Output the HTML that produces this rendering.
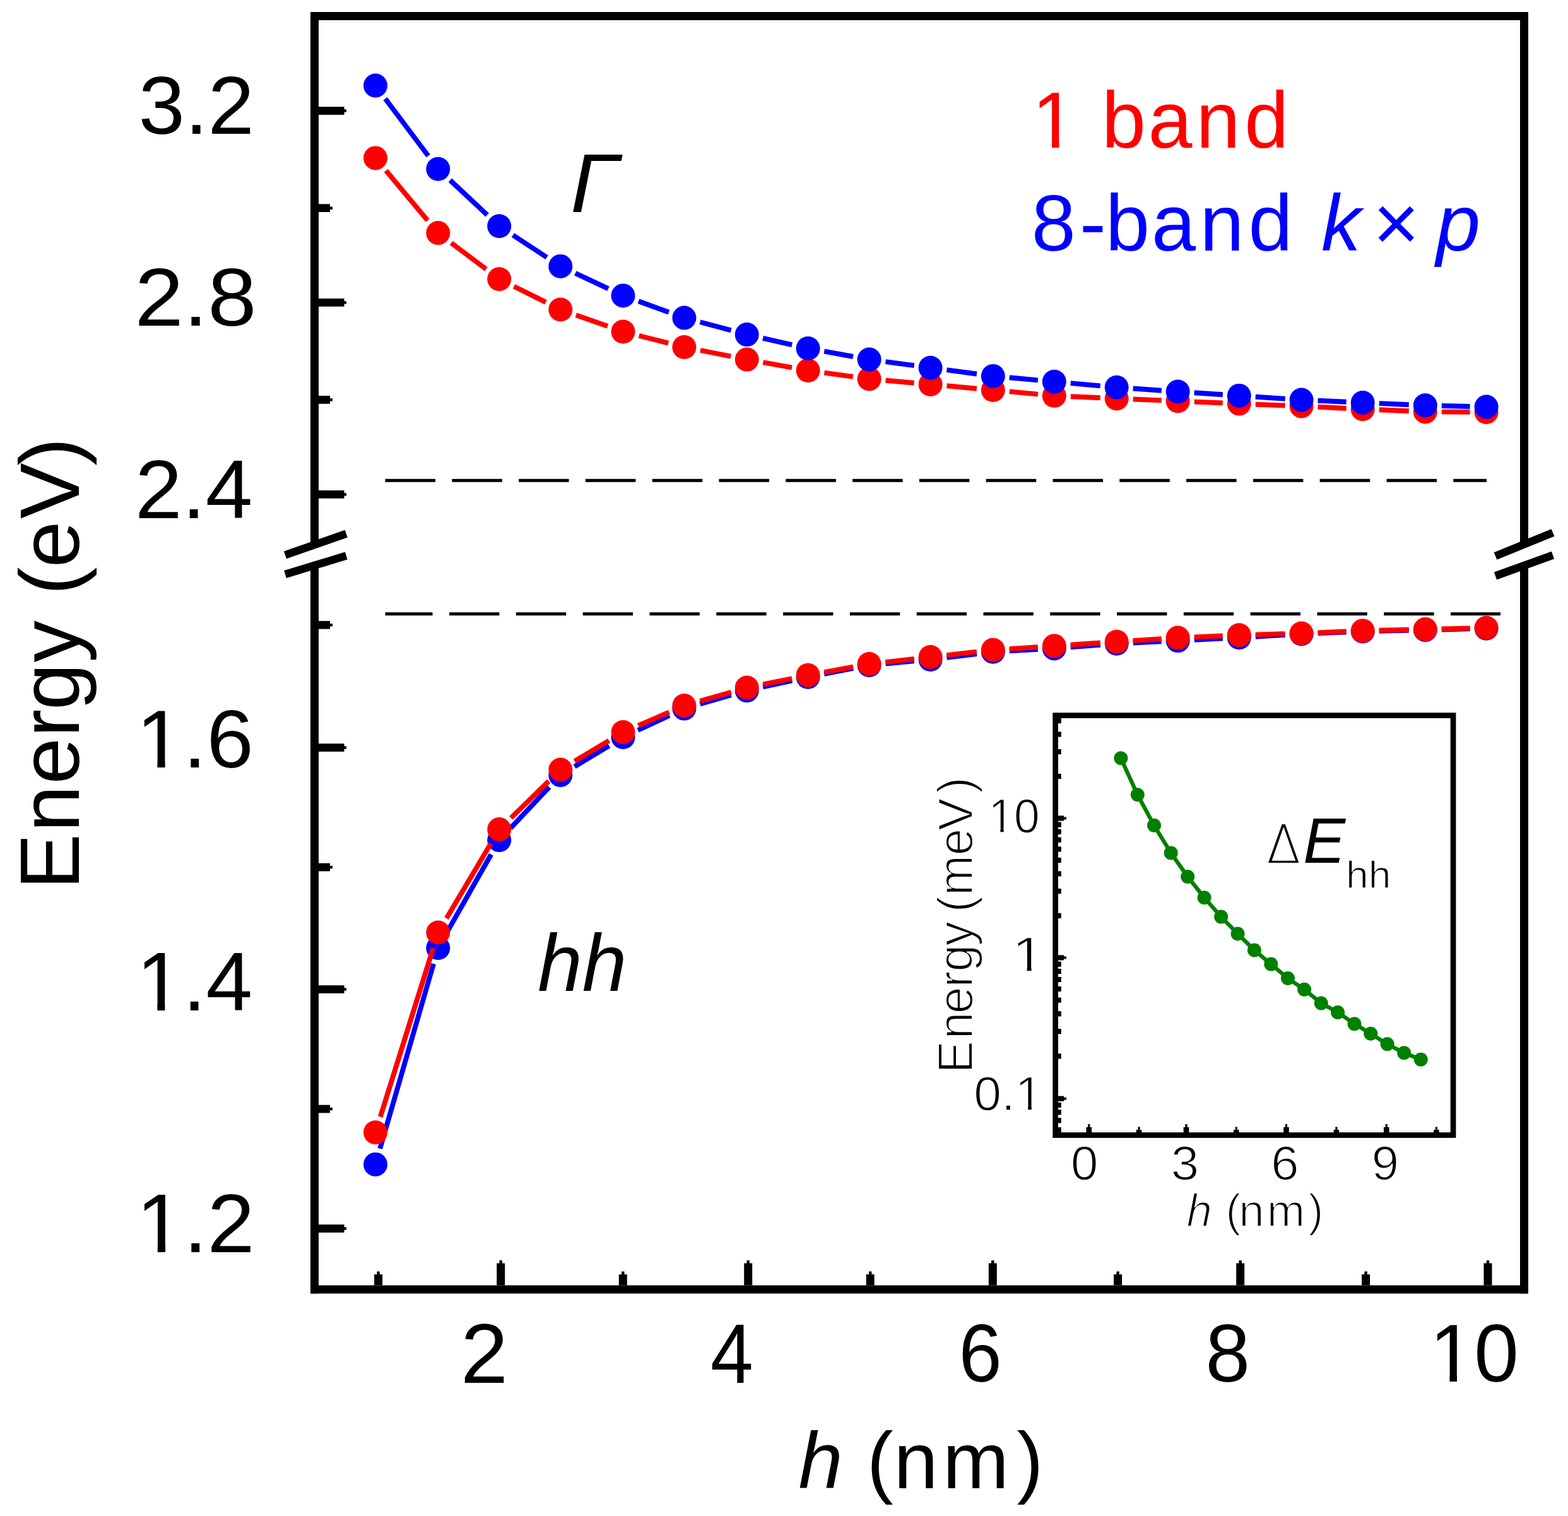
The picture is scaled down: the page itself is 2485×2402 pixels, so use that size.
<!DOCTYPE html>
<html><head><meta charset="utf-8"><title>Energy vs h</title>
<style>
html,body{margin:0;padding:0;background:#fff;overflow:hidden;}
svg{display:block;}
text{font-family:"Liberation Sans",Arial,sans-serif;}
</style></head>
<body>
<svg width="2485" height="2402" viewBox="0 0 2485 2402">
<rect x="0" y="0" width="2485" height="2402" fill="#fff"/>
<rect x="492.0" y="19.0" width="1930.0" height="13.0" fill="#000"/>
<rect x="492.0" y="2036.5" width="1930.0" height="13.0" fill="#000"/>
<rect x="492.0" y="19.0" width="13.0" height="843.0" fill="#000"/>
<rect x="492.0" y="897.0" width="13.0" height="1152.5" fill="#000"/>
<rect x="2409.0" y="19.0" width="13.0" height="843.0" fill="#000"/>
<rect x="2409.0" y="897.0" width="13.0" height="1152.5" fill="#000"/>
<line x1="452.0" y1="879.4" x2="548.7" y2="845.6" stroke="#000" stroke-width="12.5" stroke-linecap="butt"/>
<line x1="452.0" y1="910.0" x2="548.7" y2="880.5" stroke="#000" stroke-width="12.5" stroke-linecap="butt"/>
<line x1="2370.0" y1="881.0" x2="2461.0" y2="844.0" stroke="#000" stroke-width="12.5" stroke-linecap="butt"/>
<line x1="2370.0" y1="912.5" x2="2461.0" y2="879.7" stroke="#000" stroke-width="12.5" stroke-linecap="butt"/>
<rect x="505.0" y="169.2" width="40.5" height="12.7" fill="#000"/>
<rect x="545.0" y="173.3" width="4.0" height="4.4" fill="#000"/>
<rect x="505.0" y="473.0" width="40.5" height="12.7" fill="#000"/>
<rect x="545.0" y="477.2" width="4.0" height="4.4" fill="#000"/>
<rect x="505.0" y="777.0" width="40.5" height="12.7" fill="#000"/>
<rect x="545.0" y="781.2" width="4.0" height="4.4" fill="#000"/>
<rect x="505.0" y="1178.2" width="40.5" height="12.7" fill="#000"/>
<rect x="545.0" y="1182.3" width="4.0" height="4.4" fill="#000"/>
<rect x="505.0" y="1561.2" width="40.5" height="12.7" fill="#000"/>
<rect x="545.0" y="1565.3" width="4.0" height="4.4" fill="#000"/>
<rect x="505.0" y="1940.2" width="40.5" height="12.7" fill="#000"/>
<rect x="545.0" y="1944.3" width="4.0" height="4.4" fill="#000"/>
<rect x="505.0" y="323.3" width="18.0" height="12.7" fill="#000"/>
<rect x="522.5" y="327.5" width="4.5" height="4.4" fill="#000"/>
<rect x="505.0" y="627.1" width="18.0" height="12.7" fill="#000"/>
<rect x="522.5" y="631.3" width="4.5" height="4.4" fill="#000"/>
<rect x="505.0" y="983.9" width="18.0" height="12.7" fill="#000"/>
<rect x="522.5" y="988.1" width="4.5" height="4.4" fill="#000"/>
<rect x="505.0" y="1367.7" width="18.0" height="12.7" fill="#000"/>
<rect x="522.5" y="1371.8" width="4.5" height="4.4" fill="#000"/>
<rect x="505.0" y="1750.7" width="18.0" height="12.7" fill="#000"/>
<rect x="522.5" y="1754.8" width="4.5" height="4.4" fill="#000"/>
<rect x="787.2" y="2001.5" width="13.0" height="35.0" fill="#000"/>
<rect x="791.5" y="1997.0" width="4.4" height="5.0" fill="#000"/>
<rect x="1179.2" y="2001.5" width="13.0" height="35.0" fill="#000"/>
<rect x="1183.5" y="1997.0" width="4.4" height="5.0" fill="#000"/>
<rect x="1566.8" y="2001.5" width="13.0" height="35.0" fill="#000"/>
<rect x="1571.1" y="1997.0" width="4.4" height="5.0" fill="#000"/>
<rect x="1959.2" y="2001.5" width="13.0" height="35.0" fill="#000"/>
<rect x="1963.5" y="1997.0" width="4.4" height="5.0" fill="#000"/>
<rect x="2351.5" y="2001.5" width="13.0" height="35.0" fill="#000"/>
<rect x="2355.8" y="1997.0" width="4.4" height="5.0" fill="#000"/>
<rect x="593.1" y="2019.2" width="13.0" height="17.3" fill="#000"/>
<rect x="597.4" y="2014.5" width="4.4" height="5.0" fill="#000"/>
<rect x="980.8" y="2019.2" width="13.0" height="17.3" fill="#000"/>
<rect x="985.1" y="2014.5" width="4.4" height="5.0" fill="#000"/>
<rect x="1372.7" y="2019.2" width="13.0" height="17.3" fill="#000"/>
<rect x="1377.0" y="2014.5" width="4.4" height="5.0" fill="#000"/>
<rect x="1765.1" y="2019.2" width="13.0" height="17.3" fill="#000"/>
<rect x="1769.4" y="2014.5" width="4.4" height="5.0" fill="#000"/>
<rect x="2158.1" y="2019.2" width="13.0" height="17.3" fill="#000"/>
<rect x="2162.4" y="2014.5" width="4.4" height="5.0" fill="#000"/>
<rect x="610.5" y="758.8" width="79.5" height="5.0" fill="#000"/>
<rect x="716.3" y="758.8" width="79.5" height="5.0" fill="#000"/>
<rect x="822.1" y="758.8" width="79.5" height="5.0" fill="#000"/>
<rect x="927.9" y="758.8" width="79.5" height="5.0" fill="#000"/>
<rect x="1033.7" y="758.8" width="79.5" height="5.0" fill="#000"/>
<rect x="1139.5" y="758.8" width="79.5" height="5.0" fill="#000"/>
<rect x="1245.3" y="758.8" width="79.5" height="5.0" fill="#000"/>
<rect x="1351.1" y="758.8" width="79.5" height="5.0" fill="#000"/>
<rect x="1456.9" y="758.8" width="79.5" height="5.0" fill="#000"/>
<rect x="1562.7" y="758.8" width="79.5" height="5.0" fill="#000"/>
<rect x="1668.5" y="758.8" width="79.5" height="5.0" fill="#000"/>
<rect x="1774.3" y="758.8" width="79.5" height="5.0" fill="#000"/>
<rect x="1880.1" y="758.8" width="79.5" height="5.0" fill="#000"/>
<rect x="1985.9" y="758.8" width="79.5" height="5.0" fill="#000"/>
<rect x="2091.7" y="758.8" width="79.5" height="5.0" fill="#000"/>
<rect x="2197.5" y="758.8" width="79.5" height="5.0" fill="#000"/>
<rect x="2303.3" y="758.8" width="52.7" height="5.0" fill="#000"/>
<rect x="610.5" y="970.2" width="75.0" height="5.0" fill="#000"/>
<rect x="712.1" y="970.2" width="79.3" height="5.0" fill="#000"/>
<rect x="817.9" y="970.2" width="79.3" height="5.0" fill="#000"/>
<rect x="923.7" y="970.2" width="79.3" height="5.0" fill="#000"/>
<rect x="1029.5" y="970.2" width="79.3" height="5.0" fill="#000"/>
<rect x="1135.3" y="970.2" width="79.3" height="5.0" fill="#000"/>
<rect x="1241.1" y="970.2" width="79.3" height="5.0" fill="#000"/>
<rect x="1346.9" y="970.2" width="79.3" height="5.0" fill="#000"/>
<rect x="1452.7" y="970.2" width="79.3" height="5.0" fill="#000"/>
<rect x="1558.5" y="970.2" width="79.3" height="5.0" fill="#000"/>
<rect x="1664.3" y="970.2" width="79.3" height="5.0" fill="#000"/>
<rect x="1770.1" y="970.2" width="79.3" height="5.0" fill="#000"/>
<rect x="1875.9" y="970.2" width="79.3" height="5.0" fill="#000"/>
<rect x="1981.7" y="970.2" width="79.3" height="5.0" fill="#000"/>
<rect x="2087.5" y="970.2" width="79.3" height="5.0" fill="#000"/>
<rect x="2193.3" y="970.2" width="79.3" height="5.0" fill="#000"/>
<rect x="2299.1" y="970.2" width="78.9" height="5.0" fill="#000"/>
<path d="M611.7,270.3L677.6,349.2M715.1,384.8L770.4,426.5M814.5,453.8L865.0,478.9M912.8,499.2L963.0,516.8M1012.7,531.9L1059.2,543.6M1109.9,555.0L1158.2,564.6M1209.3,574.2L1255.0,582.4M1306.4,590.6L1351.8,596.8M1403.5,602.7L1448.7,606.7M1500.5,611.3L1547.9,615.7M1599.7,620.4L1644.9,624.6M1696.8,628.2L1743.7,630.2M1795.7,632.5L1840.7,634.4M1892.7,636.6L1937.8,638.5M1989.8,640.7L2036.6,642.5M2088.6,644.8L2133.7,647.0M2185.7,649.3L2232.8,651.3M2284.8,652.6L2329.6,652.8" stroke="#ff0000" stroke-width="7.9" fill="none" stroke-linecap="butt"/>
<g fill="#ff0000"><circle cx="595.0" cy="250.4" r="19.0"/><circle cx="694.3" cy="369.1" r="19.0"/><circle cx="791.2" cy="442.2" r="19.0"/><circle cx="888.3" cy="490.5" r="19.0"/><circle cx="987.5" cy="525.5" r="19.0"/><circle cx="1084.4" cy="550.0" r="19.0"/><circle cx="1183.7" cy="569.6" r="19.0"/><circle cx="1280.6" cy="587.0" r="19.0"/><circle cx="1377.6" cy="600.4" r="19.0"/><circle cx="1474.6" cy="609.0" r="19.0"/><circle cx="1573.8" cy="618.0" r="19.0"/><circle cx="1670.8" cy="627.0" r="19.0"/><circle cx="1769.7" cy="631.4" r="19.0"/><circle cx="1866.7" cy="635.5" r="19.0"/><circle cx="1963.8" cy="639.6" r="19.0"/><circle cx="2062.6" cy="643.6" r="19.0"/><circle cx="2159.7" cy="648.2" r="19.0"/><circle cx="2258.8" cy="652.4" r="19.0"/><circle cx="2355.6" cy="653.0" r="19.0"/></g>
<path d="M610.6,156.4L678.7,247.0M713.3,285.5L772.2,340.6M812.9,372.5L866.6,407.7M911.8,432.9L964.0,457.4M1011.9,477.3L1060.0,494.7M1109.5,510.3L1158.6,523.4M1209.1,535.8L1255.2,546.3M1306.2,556.6L1352.0,565.0M1403.4,573.1L1448.8,579.2M1500.4,586.1L1548.0,592.5M1599.7,598.3L1644.9,602.4M1696.7,607.1L1743.8,611.4M1795.6,615.5L1840.8,618.7M1892.6,622.2L1937.9,625.2M1989.7,628.7L2036.7,631.8M2088.6,634.8L2133.7,636.8M2185.7,639.1L2232.8,641.2M2284.8,642.9L2329.6,644.0" stroke="#0000ff" stroke-width="7.9" fill="none" stroke-linecap="butt"/>
<g fill="#0000ff"><circle cx="595.0" cy="135.6" r="19.0"/><circle cx="694.3" cy="267.8" r="19.0"/><circle cx="791.2" cy="358.3" r="19.0"/><circle cx="888.3" cy="421.9" r="19.0"/><circle cx="987.5" cy="468.4" r="19.0"/><circle cx="1084.4" cy="503.6" r="19.0"/><circle cx="1183.7" cy="530.1" r="19.0"/><circle cx="1280.6" cy="552.0" r="19.0"/><circle cx="1377.6" cy="569.6" r="19.0"/><circle cx="1474.6" cy="582.7" r="19.0"/><circle cx="1573.8" cy="595.9" r="19.0"/><circle cx="1670.8" cy="604.8" r="19.0"/><circle cx="1769.7" cy="613.7" r="19.0"/><circle cx="1866.7" cy="620.5" r="19.0"/><circle cx="1963.8" cy="626.9" r="19.0"/><circle cx="2062.6" cy="633.6" r="19.0"/><circle cx="2159.7" cy="638.0" r="19.0"/><circle cx="2258.8" cy="642.3" r="19.0"/><circle cx="2355.6" cy="644.6" r="19.0"/></g>
<path d="M602.2,1819.9L687.1,1527.0M707.1,1479.4L778.4,1353.7M809.0,1312.2L870.5,1247.0M910.5,1214.6L965.3,1181.5M1011.0,1157.0L1060.9,1133.6M1109.4,1115.4L1158.7,1101.3M1209.1,1088.5L1255.2,1078.4M1306.1,1067.9L1352.1,1058.9M1403.5,1051.6L1448.7,1047.4M1500.4,1041.8L1548.0,1036.0M1599.8,1031.4L1644.8,1028.8M1696.7,1025.4L1743.8,1021.8M1795.7,1018.5L1840.7,1016.4M1892.7,1013.8L1937.8,1011.6M1989.8,1008.8L2036.6,1006.0M2088.6,1003.4L2133.7,1001.5M2185.7,999.8L2232.8,998.7M2284.8,997.5L2329.6,996.4" stroke="#0000ff" stroke-width="7.9" fill="none" stroke-linecap="butt"/>
<g fill="#0000ff"><circle cx="595.0" cy="1844.9" r="19.0"/><circle cx="694.3" cy="1502.0" r="19.0"/><circle cx="791.2" cy="1331.1" r="19.0"/><circle cx="888.3" cy="1228.1" r="19.0"/><circle cx="987.5" cy="1168.0" r="19.0"/><circle cx="1084.4" cy="1122.6" r="19.0"/><circle cx="1183.7" cy="1094.1" r="19.0"/><circle cx="1280.6" cy="1072.8" r="19.0"/><circle cx="1377.6" cy="1054.0" r="19.0"/><circle cx="1474.6" cy="1045.0" r="19.0"/><circle cx="1573.8" cy="1032.8" r="19.0"/><circle cx="1670.8" cy="1027.4" r="19.0"/><circle cx="1769.7" cy="1019.8" r="19.0"/><circle cx="1866.7" cy="1015.1" r="19.0"/><circle cx="1963.8" cy="1010.3" r="19.0"/><circle cx="2062.6" cy="1004.5" r="19.0"/><circle cx="2159.7" cy="1000.4" r="19.0"/><circle cx="2258.8" cy="998.1" r="19.0"/><circle cx="2355.6" cy="995.8" r="19.0"/></g>
<path d="M602.8,1769.5L686.5,1502.3M707.6,1455.1L777.9,1336.5M809.8,1296.0L869.7,1237.7M910.6,1206.2L965.2,1173.4M1011.4,1149.7L1060.5,1128.3M1109.4,1110.8L1158.7,1096.7M1209.2,1084.3L1255.1,1075.0M1306.2,1065.1L1352.0,1056.7M1403.4,1049.1L1448.8,1043.9M1500.4,1038.1L1548.0,1032.7M1599.7,1028.1L1644.9,1025.1M1696.7,1021.7L1743.8,1018.5M1795.6,1015.1L1840.8,1012.3M1892.7,1009.4L1937.8,1007.5M1989.8,1005.6L2036.6,1004.2M2088.6,1002.4L2133.7,1000.5M2185.7,998.8L2232.8,997.7M2284.8,996.5L2329.6,995.4" stroke="#ff0000" stroke-width="7.9" fill="none" stroke-linecap="butt"/>
<g fill="#ff0000"><circle cx="595.0" cy="1794.3" r="19.0"/><circle cx="694.3" cy="1477.5" r="19.0"/><circle cx="791.2" cy="1314.1" r="19.0"/><circle cx="888.3" cy="1219.6" r="19.0"/><circle cx="987.5" cy="1160.0" r="19.0"/><circle cx="1084.4" cy="1118.0" r="19.0"/><circle cx="1183.7" cy="1089.5" r="19.0"/><circle cx="1280.6" cy="1069.8" r="19.0"/><circle cx="1377.6" cy="1052.0" r="19.0"/><circle cx="1474.6" cy="1041.0" r="19.0"/><circle cx="1573.8" cy="1029.8" r="19.0"/><circle cx="1670.8" cy="1023.4" r="19.0"/><circle cx="1769.7" cy="1016.8" r="19.0"/><circle cx="1866.7" cy="1010.6" r="19.0"/><circle cx="1963.8" cy="1006.3" r="19.0"/><circle cx="2062.6" cy="1003.5" r="19.0"/><circle cx="2159.7" cy="999.4" r="19.0"/><circle cx="2258.8" cy="997.1" r="19.0"/><circle cx="2355.6" cy="994.8" r="19.0"/></g>
<rect x="1672.65" y="1133.55" width="630.40" height="665.00" fill="none" stroke="#000" stroke-width="8.7"/>
<rect x="1676.0" y="1292.4" width="10.0" height="8.2" fill="#000"/>
<rect x="1685.0" y="1294.5" width="5.0" height="4.0" fill="#000"/>
<rect x="1676.0" y="1513.3" width="10.0" height="8.2" fill="#000"/>
<rect x="1685.0" y="1515.4" width="5.0" height="4.0" fill="#000"/>
<rect x="1676.0" y="1736.6" width="10.0" height="8.2" fill="#000"/>
<rect x="1685.0" y="1738.7" width="5.0" height="4.0" fill="#000"/>
<rect x="1676.0" y="1786.1" width="5.8" height="8.2" fill="#000"/>
<rect x="1676.0" y="1771.2" width="5.8" height="8.2" fill="#000"/>
<rect x="1676.0" y="1758.2" width="5.8" height="8.2" fill="#000"/>
<rect x="1676.0" y="1746.8" width="5.8" height="8.2" fill="#000"/>
<rect x="1676.0" y="1669.4" width="5.8" height="8.2" fill="#000"/>
<rect x="1676.0" y="1630.1" width="5.8" height="8.2" fill="#000"/>
<rect x="1676.0" y="1602.2" width="5.8" height="8.2" fill="#000"/>
<rect x="1676.0" y="1580.5" width="5.8" height="8.2" fill="#000"/>
<rect x="1676.0" y="1562.8" width="5.8" height="8.2" fill="#000"/>
<rect x="1676.0" y="1547.9" width="5.8" height="8.2" fill="#000"/>
<rect x="1676.0" y="1534.9" width="5.8" height="8.2" fill="#000"/>
<rect x="1676.0" y="1523.5" width="5.8" height="8.2" fill="#000"/>
<rect x="1676.0" y="1446.8" width="5.8" height="8.2" fill="#000"/>
<rect x="1676.0" y="1407.9" width="5.8" height="8.2" fill="#000"/>
<rect x="1676.0" y="1380.3" width="5.8" height="8.2" fill="#000"/>
<rect x="1676.0" y="1358.9" width="5.8" height="8.2" fill="#000"/>
<rect x="1676.0" y="1341.4" width="5.8" height="8.2" fill="#000"/>
<rect x="1676.0" y="1326.6" width="5.8" height="8.2" fill="#000"/>
<rect x="1676.0" y="1313.8" width="5.8" height="8.2" fill="#000"/>
<rect x="1676.0" y="1302.5" width="5.8" height="8.2" fill="#000"/>
<rect x="1676.0" y="1225.9" width="5.8" height="8.2" fill="#000"/>
<rect x="1676.0" y="1187.0" width="5.8" height="8.2" fill="#000"/>
<rect x="1676.0" y="1159.4" width="5.8" height="8.2" fill="#000"/>
<rect x="1676.0" y="1138.0" width="5.8" height="8.2" fill="#000"/>
<rect x="1721.5" y="1785.9" width="8.6" height="9.3" fill="#000"/>
<rect x="1724.2" y="1781.0" width="3.2" height="5.5" fill="#000"/>
<rect x="1875.7" y="1785.9" width="8.6" height="9.3" fill="#000"/>
<rect x="1878.4" y="1781.0" width="3.2" height="5.5" fill="#000"/>
<rect x="2034.2" y="1785.9" width="8.6" height="9.3" fill="#000"/>
<rect x="2036.9" y="1781.0" width="3.2" height="5.5" fill="#000"/>
<rect x="2193.0" y="1785.9" width="8.6" height="9.3" fill="#000"/>
<rect x="2195.7" y="1781.0" width="3.2" height="5.5" fill="#000"/>
<rect x="1800.7" y="1790.2" width="8.6" height="5.0" fill="#000"/>
<rect x="1803.4" y="1785.5" width="3.2" height="5.0" fill="#000"/>
<rect x="1955.0" y="1790.2" width="8.6" height="5.0" fill="#000"/>
<rect x="1957.7" y="1785.5" width="3.2" height="5.0" fill="#000"/>
<rect x="2113.6" y="1790.2" width="8.6" height="5.0" fill="#000"/>
<rect x="2116.3" y="1785.5" width="3.2" height="5.0" fill="#000"/>
<rect x="2272.1" y="1790.2" width="8.6" height="5.0" fill="#000"/>
<rect x="2274.8" y="1785.5" width="3.2" height="5.0" fill="#000"/>
<polyline points="1776.4,1201.3 1802.8,1259.3 1829.0,1307.8 1855.7,1351.4 1882.2,1389.0 1908.6,1422.3 1935.2,1452.6 1961.6,1479.5 1987.9,1505.5 2014.3,1527.6 2041.0,1550.0 2067.1,1567.8 2093.8,1589.5 2120.1,1604.0 2146.5,1622.2 2172.3,1637.8 2198.6,1654.3 2225.2,1668.3 2251.8,1678.7" fill="none" stroke="#008000" stroke-width="6.3"/>
<g fill="#008000"><circle cx="1776.4" cy="1201.3" r="11"/><circle cx="1802.8" cy="1259.3" r="11"/><circle cx="1829.0" cy="1307.8" r="11"/><circle cx="1855.7" cy="1351.4" r="11"/><circle cx="1882.2" cy="1389.0" r="11"/><circle cx="1908.6" cy="1422.3" r="11"/><circle cx="1935.2" cy="1452.6" r="11"/><circle cx="1961.6" cy="1479.5" r="11"/><circle cx="1987.9" cy="1505.5" r="11"/><circle cx="2014.3" cy="1527.6" r="11"/><circle cx="2041.0" cy="1550.0" r="11"/><circle cx="2067.1" cy="1567.8" r="11"/><circle cx="2093.8" cy="1589.5" r="11"/><circle cx="2120.1" cy="1604.0" r="11"/><circle cx="2146.5" cy="1622.2" r="11"/><circle cx="2172.3" cy="1637.8" r="11"/><circle cx="2198.6" cy="1654.3" r="11"/><circle cx="2225.2" cy="1668.3" r="11"/><circle cx="2251.8" cy="1678.7" r="11"/></g>
<text transform="translate(219.52,211.60) scale(1.0143,1)" font-size="130.14" fill="#000">3.2</text>
<text transform="translate(213.45,515.59) scale(1.0629,1)" font-size="130.70" fill="#000">2.8</text>
<text transform="translate(213.89,820.70) scale(1.0145,1)" font-size="132.29" fill="#000">2.4</text>
<text transform="translate(216.04,1215.90) scale(1.0277,1)" font-size="130.00" fill="#000">1.6</text><rect x="225.17" y="1204.69" width="24.26" height="14.21" fill="#fff"/><rect x="261.64" y="1204.69" width="23.55" height="14.21" fill="#fff"/>
<text transform="translate(216.15,1600.70)" font-size="132.43" fill="#000">1.4</text><rect x="225.21" y="1589.31" width="24.07" height="14.39" fill="#fff"/><rect x="261.39" y="1589.31" width="23.36" height="14.39" fill="#fff"/>
<text transform="translate(216.00,1983.80) scale(1.0205,1)" font-size="132.29" fill="#000">1.2</text><rect x="225.23" y="1972.42" width="24.52" height="14.38" fill="#fff"/><rect x="262.08" y="1972.42" width="23.79" height="14.38" fill="#fff"/>
<text transform="translate(729.95,2190.80) scale(1.0161,1)" font-size="132.86" fill="#000">2</text>
<text transform="translate(1126.06,2190.80) scale(0.9180,1)" font-size="132.86" fill="#000">4</text>
<text transform="translate(1519.56,2189.30) scale(0.9418,1)" font-size="130.42" fill="#000">6</text>
<text transform="translate(1910.53,2189.30) scale(0.9723,1)" font-size="130.42" fill="#000">8</text>
<text transform="translate(2265.72,2189.30) scale(0.9723,1)" font-size="130.42" fill="#000">10</text><rect x="2274.39" y="2178.06" width="23.02" height="14.24" fill="#fff"/><rect x="2309.01" y="2178.06" width="22.34" height="14.24" fill="#fff"/>
<text x="0" y="2357.75" font-size="125.96" fill="#000"><tspan x="1265.5" style="font-style:italic">h</tspan> <tspan x="1373.8">(</tspan><tspan x="1416.6">n</tspan><tspan x="1494.0">m</tspan><tspan x="1611.6">)</tspan></text>
<text transform="translate(124.62,1398.00) rotate(-90)" font-size="132.77" fill="#000"><tspan x="-11.6">E</tspan><tspan x="79.7">n</tspan><tspan x="155.2">e</tspan><tspan x="230.0">r</tspan><tspan x="273.0">g</tspan><tspan x="348.5">y</tspan> <tspan x="455.3">(</tspan><tspan x="498.6">e</tspan><tspan x="576.1">V</tspan><tspan x="660.3">)</tspan></text>
<text x="0" y="234.04" font-size="125.81" fill="#ff0000"><tspan x="1635.6">1</tspan> <tspan x="1746.1">b</tspan><tspan x="1819.4">a</tspan><tspan x="1895.4">n</tspan><tspan x="1972.2">d</tspan></text><rect x="1644.17" y="223.14" width="22.84" height="13.90" fill="#fff"/><rect x="1678.53" y="223.14" width="22.16" height="13.90" fill="#fff"/>
<text x="0" y="397.45" font-size="125.96" fill="#0000ff"><tspan x="1634.8">8</tspan><tspan x="1711.1">-</tspan><tspan x="1752.0">b</tspan><tspan x="1825.1">a</tspan><tspan x="1901.5">n</tspan><tspan x="1978.4">d</tspan> <tspan x="2093.9" style="font-style:italic">k</tspan><tspan x="2176.1">×</tspan><tspan x="2275.9" style="font-style:italic">p</tspan></text>
<text transform="translate(904.11,336.10) scale(1.0343,1)" font-size="131.86" fill="#000" style="font-style:italic">Γ</text>
<text transform="translate(852.16,1569.70) scale(0.9968,1)" font-size="127.26" fill="#000" style="font-style:italic">hh</text>
<text transform="translate(1566.38,1318.60) scale(0.9606,1)" font-size="76.23" fill="#000" stroke="#fff" stroke-width="1.6">10</text><rect x="1571.39" y="1311.41" width="14.01" height="10.19" fill="#fff"/><rect x="1590.67" y="1311.41" width="13.61" height="10.19" fill="#fff"/>
<text transform="translate(1603.75,1539.28) scale(1.1850,1)" font-size="78.06" fill="#000" stroke="#fff" stroke-width="1.6">1</text><rect x="1610.07" y="1531.95" width="17.54" height="10.33" fill="#fff"/><rect x="1634.59" y="1531.95" width="17.04" height="10.33" fill="#fff"/>
<text transform="translate(1543.17,1758.90) scale(1.0358,1)" font-size="75.94" fill="#000" stroke="#fff" stroke-width="1.6">0.1</text><rect x="1614.15" y="1751.73" width="15.00" height="10.17" fill="#fff"/><rect x="1634.90" y="1751.73" width="14.58" height="10.17" fill="#fff"/>
<text transform="translate(1697.10,1869.10) scale(1.0180,1)" font-size="76.67" fill="#000" stroke="#fff" stroke-width="1.6">0</text>
<text transform="translate(1855.71,1869.10) scale(1.0406,1)" font-size="76.67" fill="#000" stroke="#fff" stroke-width="1.6">3</text>
<text transform="translate(2014.13,1869.10) scale(1.0375,1)" font-size="76.67" fill="#000" stroke="#fff" stroke-width="1.6">6</text>
<text transform="translate(2173.71,1869.10) scale(1.0145,1)" font-size="76.67" fill="#000" stroke="#fff" stroke-width="1.6">9</text>
<text x="0" y="1943.08" font-size="72.61" fill="#000" stroke="#fff" stroke-width="2.0"><tspan x="1880.5" style="font-style:italic">h</tspan> <tspan x="1942.5">(</tspan><tspan x="1963.3">n</tspan><tspan x="2007.8">m</tspan><tspan x="2073.2">)</tspan></text>
<text transform="translate(1540.79,1693.00) rotate(-90)" font-size="77.07" fill="#000" stroke="#fff" stroke-width="2.0"><tspan x="-7.4">E</tspan><tspan x="46.8">n</tspan><tspan x="86.8">e</tspan><tspan x="128.4">r</tspan><tspan x="153.4">g</tspan><tspan x="194.4">y</tspan> <tspan x="247.6">(</tspan><tspan x="273.9">m</tspan><tspan x="337.6">e</tspan><tspan x="377.0">V</tspan><tspan x="436.1">)</tspan></text>
<text transform="translate(2007.87,1366.80) scale(0.9304,1)" font-size="83.56" fill="#000" style="font-family:'DejaVu Sans';font-weight:200">Δ</text>
<text transform="translate(2065.29,1366.80) scale(0.9916,1)" font-size="101.16" fill="#000" style="font-style:italic">E</text>
<text transform="translate(2132.96,1407.32) scale(1.0371,1)" font-size="61.97" fill="#000" stroke="#fff" stroke-width="1.4">hh</text>
</svg>
</body></html>
